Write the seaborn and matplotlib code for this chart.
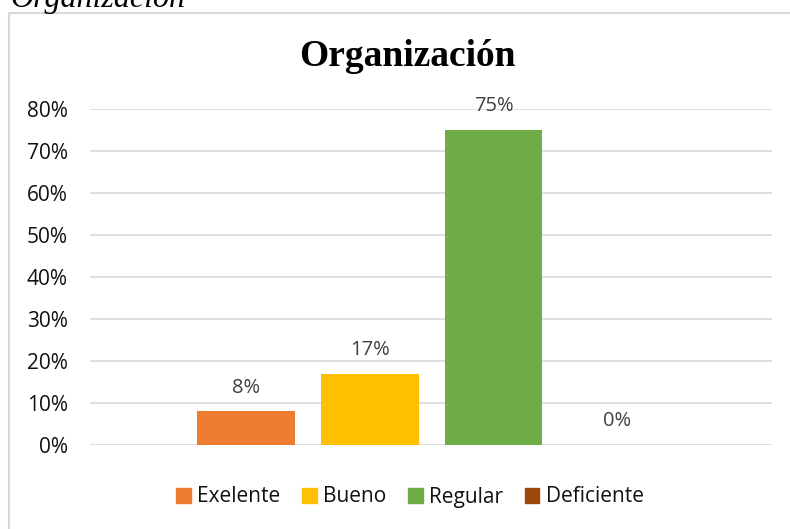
import pandas as pd
import numpy as np
import matplotlib.pyplot as plt
import matplotlib.patches as mpatches
import seaborn as sns

# Data
categories = ['Exelente', 'Bueno', 'Regular', 'Deficiente']
values = [0.08, 0.17, 0.75, 0.00]
labels = ['8%', '17%', '75%', '0%']
colors = ['#ED7D31', '#FFC000', '#70AD47', '#9E480E']

df = pd.DataFrame({'Categoria': categories, 'Valor': values})

sns.set_style('white')
plt.rcParams['font.family'] = ['Open Sans', 'DejaVu Sans']
plt.rcParams['text.color'] = 'black'

fig = plt.figure(figsize=(7.9, 5.29), dpi=100)
ax = fig.add_axes([90/790, 1 - 445/529, 682/790, 336/529])

sns.barplot(data=df, x='Categoria', y='Valor', hue='Categoria',
            palette=colors, order=categories, hue_order=categories,
            width=0.79, dodge=False, legend=False, ax=ax, saturation=1,
            linewidth=0, edgecolor='none')

ax.set_xlim(-1.26, 4.25)
ax.set_ylim(0, 0.8)
ax.set_yticks(np.arange(0, 0.81, 0.1))
ax.set_yticklabels([f'{int(round(t*100))}%' for t in np.arange(0, 0.81, 0.1)],
                   fontsize=15, color='#111111')
ax.set_xticks([])
ax.set_xlabel('')
ax.set_ylabel('')
ax.tick_params(axis='y', length=0, pad=16)
for s in ax.spines.values():
    s.set_visible(False)
ax.grid(axis='y', color='#D9D9D9', linewidth=1.2)
ax.set_axisbelow(True)

# Data labels
for i, (v, lab) in enumerate(zip(values, labels)):
    ax.annotate(lab, (i, v), xytext=(0, 17), textcoords='offset points',
                ha='center', va='center', fontsize=14.5, color='#404040')

# Title
fig.text(407/790, 1 - 56/529, 'Organización', ha='center', va='center',
         fontsize=27, fontweight='bold', family='Liberation Serif', color='black')

# Cropped caption above the chart box
fig.text(10/790, 1 - 7/529, 'Organización', ha='left', va='baseline',
         fontsize=23, style='italic', family='Liberation Serif', color='black')

# Chart area border
border = mpatches.Rectangle((9/790, -0.1), 1.0, 1 - 13/529 + 0.1,
                            transform=fig.transFigure, fill=False,
                            edgecolor='#D9D9D9', linewidth=1.5, clip_on=False)
fig.patches.append(border)

# Legend
handles = [mpatches.Patch(color=c, label=l) for c, l in zip(colors, categories)]
leg = fig.legend(handles=handles, loc='center', bbox_to_anchor=(410/790, 1 - 497/529),
                 ncol=4, frameon=False, fontsize=15, handlelength=0.7,
                 handleheight=0.7, handletextpad=0.3, columnspacing=1.05)
for t in leg.get_texts():
    t.set_color('#111111')

plt.savefig('out.png', dpi=100)
